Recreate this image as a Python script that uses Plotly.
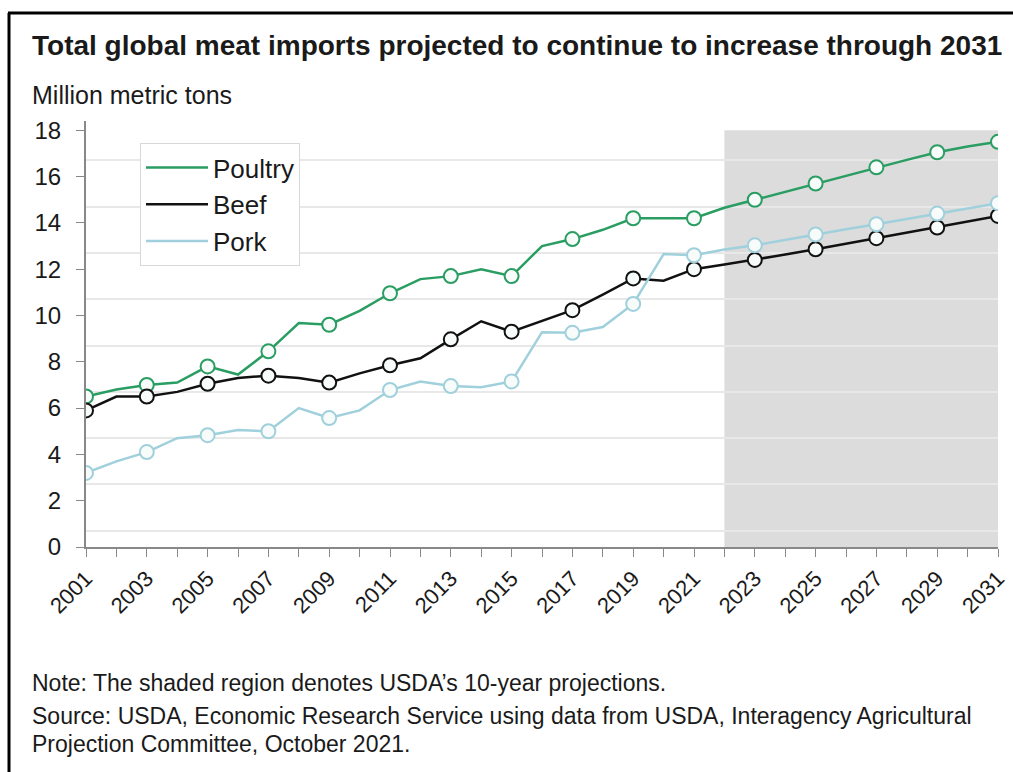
import plotly.graph_objects as go

years = list(range(2001, 2032))
poultry = [6.5, 6.8, 7.0, 7.1, 7.8, 7.45, 8.45, 9.67, 9.6, 10.2, 10.96, 11.57, 11.7, 12.0, 11.7,
           13.0, 13.3, 13.7, 14.2, 14.2, 14.2, 14.65, 15.0, 15.35, 15.7, 16.05, 16.4, 16.72, 17.05, 17.3, 17.5]
beef = [5.9, 6.5, 6.5, 6.7, 7.05, 7.3, 7.4, 7.3, 7.1, 7.5, 7.85, 8.15, 8.97, 9.75, 9.3,
        9.75, 10.23, 10.9, 11.6, 11.5, 12.0, 12.2, 12.4, 12.63, 12.86, 13.1, 13.34, 13.57, 13.8, 14.05, 14.3]
pork = [3.2, 3.7, 4.1, 4.7, 4.83, 5.05, 5.0, 6.0, 5.57, 5.9, 6.78, 7.15, 6.95, 6.9, 7.15,
        9.28, 9.25, 9.5, 10.5, 12.65, 12.6, 12.85, 13.03, 13.27, 13.5, 13.72, 13.94, 14.17, 14.4, 14.62, 14.85]
proj_start, proj_end = 2022, 2031

series = [("Poultry", poultry, "#2a9d62"), ("Beef", beef, "#111111"), ("Pork", pork, "#9fd0dc")]

FONT = "Liberation Sans"
fig = go.Figure()
for name, vals, col in series:
    fig.add_trace(go.Scatter(x=years, y=vals, mode="lines", name=name,
                             line=dict(color=col, width=2.5), showlegend=True))
for name, vals, col in series:
    fig.add_trace(go.Scatter(x=years[::2], y=vals[::2], mode="markers", name=name,
                             marker=dict(size=14, color="#f7fbfa", line=dict(color=col, width=2)),
                             showlegend=False, hoverinfo="skip"))

fig.add_shape(type="rect", xref="x", yref="y", x0=proj_start, x1=proj_end, y0=0, y1=18,
              fillcolor="#dcdcdc", line=dict(width=0), layer="below")

W, H = 1013, 772
L, R, T, B = 86, 15, 121, 225
pw, ph = W - L - R, H - T - B
def px(x):
    return (x - L) / pw
def py(y):
    return 1 - (y - T) / ph

# frame
fig.add_shape(type="line", xref="paper", yref="paper", x0=px(8), x1=px(1013), y0=py(13), y1=py(13),
              line=dict(color="#000", width=3))
fig.add_shape(type="line", xref="paper", yref="paper", x0=px(9), x1=px(9), y0=py(13), y1=py(772),
              line=dict(color="#000", width=3))

fig.add_annotation(xref="paper", yref="paper", x=px(30), y=py(45), xanchor="left", yanchor="middle",
                   text="<b>Total global meat imports projected to continue to increase through 2031</b>",
                   showarrow=False, font=dict(family=FONT, size=28, color="#1a1a1a"))
fig.add_annotation(xref="paper", yref="paper", x=px(30), y=py(95), xanchor="left", yanchor="middle",
                   text="Million metric tons", showarrow=False, font=dict(family=FONT, size=25, color="#1a1a1a"))
notes = [("Note: The shaded region denotes USDA\u2019s 10-year projections.", 683),
         ("Source: USDA, Economic Research Service using data from USDA, Interagency Agricultural", 716),
         ("Projection Committee, October 2021.", 744)]
for t, yy in notes:
    fig.add_annotation(xref="paper", yref="paper", x=px(30), y=py(yy), xanchor="left", yanchor="middle",
                       text=t, showarrow=False, font=dict(family=FONT, size=23, color="#1a1a1a"))

fig.update_layout(
    width=W, height=H, margin=dict(l=L, r=R, t=T, b=B, autoexpand=False),
    paper_bgcolor="white", plot_bgcolor="white",
    font=dict(family=FONT, size=22, color="#1a1a1a"),
    legend=dict(x=px(140), y=py(143), xanchor="left", yanchor="top",
                bordercolor="#d8d8d8", borderwidth=1, bgcolor="white",
                font=dict(size=26), itemwidth=62, tracegroupgap=0),
    xaxis=dict(range=[2001, 2031], tick0=2001, dtick=2, tickangle=-45, showgrid=False,
               showline=True, linecolor="#888", linewidth=2, ticks="outside", ticklen=8,
               tickcolor="#888", zeroline=False, automargin=False,
               tickfont=dict(family=FONT, size=22, color="#1a1a1a"),
               minor=dict(dtick=1, tick0=2001, ticks="outside", ticklen=8, tickcolor="#888")),
    yaxis=dict(range=[0, 18.4], tick0=0, dtick=2, showgrid=False, showline=True,
               linecolor="#888", linewidth=2, ticks="outside", ticklen=8, tickcolor="#888",
               zeroline=False, ticklabelstandoff=10, automargin=False,
               tickfont=dict(family=FONT, size=24, color="#1a1a1a"),
               minor=dict(tick0=0.7, dtick=2, showgrid=True, gridcolor="#e8e8e8", gridwidth=1.5)),
    showlegend=True,
)

fig.write_html("out.html")
